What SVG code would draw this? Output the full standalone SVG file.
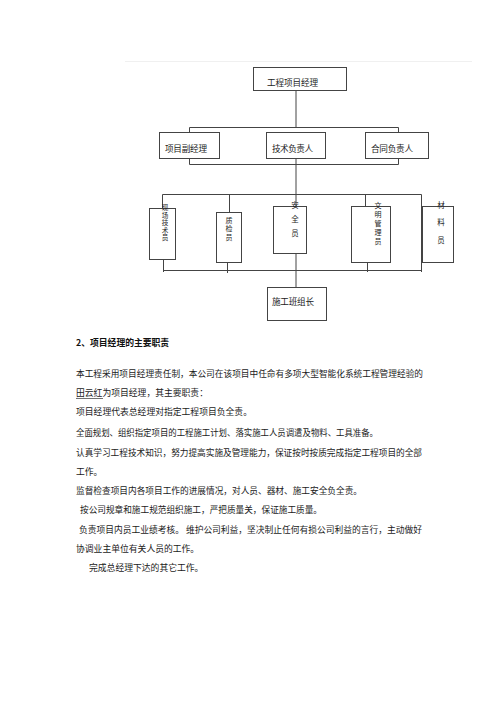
<svg xmlns="http://www.w3.org/2000/svg" width="500" height="706" viewBox="0 0 500 706">
<style>
.bx{fill:#fff;stroke:#444;stroke-width:1}
.ln{fill:none;stroke:#444;stroke-width:1}
.t{font-family:"Noto Sans CJK SC","Noto Sans",sans-serif;font-size:8.6px;fill:#222}
.v{font-family:"Noto Sans CJK SC","Noto Sans",sans-serif;fill:#222;writing-mode:vertical-rl}
.p{font-family:"Noto Sans CJK SC","Noto Sans",sans-serif;font-size:8.8px;fill:#1a1a1a}
.h{font-family:"Noto Sans CJK SC","Noto Sans",sans-serif;font-size:8.8px;font-weight:bold;fill:#111}
</style>
<rect width="500" height="706" fill="#fff"/>
<line x1="125" y1="61.5" x2="472" y2="61.5" stroke="#f0f0f0" stroke-width="1"/>
<g id="connectors">
<path class="ln" d="M296 90V127.5M189.5 127.5H398.5M189.5 127.5V164.5M398.5 127.5V164.5M189.5 164.5H398.5M296 158V195"/>
<path class="ln" d="M162.5 194.5H421.5M162.5 194.5V210M229.5 194.5V212M296 194.5V206M365.5 194.5V211M421.5 194.5V272"/>
<path class="ln" d="M163.5 259V272M227.5 253V273M367.5 253V272M296 253V287M163.5 270.5H421.5"/>
</g>
<g id="n-gcxmjl"><rect class="bx" x="253.5" y="67.5" width="93" height="23"/><text class="t" x="267" y="86" textLength="51">工程项目经理</text></g>
<g id="n-xmfjl"><rect class="bx" x="159.5" y="132.5" width="60" height="26"/><text class="t" x="165" y="152" textLength="42">项目副经理</text></g>
<g id="n-jsfzr"><rect class="bx" x="266.5" y="132.5" width="59" height="26"/><text class="t" x="272" y="152" textLength="41">技术负责人</text></g>
<g id="n-htfzr"><rect class="bx" x="365.5" y="132.5" width="63" height="26"/><text class="t" x="371" y="152" textLength="42">合同负责人</text></g>
<g id="n-xcjsy"><rect class="bx" x="149.5" y="208.5" width="26" height="51"/>
<text class="v" x="165" y="204.7" style="font-size:6.6px;letter-spacing:0.9px">现场技术员</text></g>
<g id="n-zjy"><rect class="bx" x="216.5" y="212.5" width="25" height="50"/>
<text class="v" x="229" y="216.5" style="font-size:7px;letter-spacing:1.5px">质检员</text></g>
<g id="n-aqy"><rect class="bx" x="273.5" y="206.5" width="33" height="47"/>
<text class="v" x="295" y="201.3" style="font-size:7.5px;letter-spacing:6.5px">安全员</text></g>
<g id="n-wmgly"><rect class="bx" x="351.5" y="206.5" width="39" height="56"/>
<text class="v" x="378" y="201.5" style="font-size:7px;letter-spacing:2px">文明管理员</text></g>
<g id="n-cly"><rect class="bx" x="422.5" y="206.5" width="31" height="56"/>
<text class="v" x="441" y="201.3" style="font-size:7.5px;letter-spacing:10px">材料员</text></g>
<g id="n-sgbzz"><rect class="bx" x="267.5" y="287.5" width="59" height="33"/><text class="t" x="272" y="305" textLength="42">施工班组长</text></g>
<g id="body">
<text class="h" x="76" y="346">2、项目经理的主要职责</text>
<text class="p" x="76" y="377" textLength="347" lengthAdjust="spacingAndGlyphs">本工程采用项目经理责任制，本公司在该项目中任命有多项大型智能化系统工程管理经验的</text>
<text class="p" x="76" y="396">田云红为项目经理，其主要职责：</text>
<line x1="76" y1="398.5" x2="103" y2="398.5" stroke="#333" stroke-width="0.7"/>
<text class="p" x="76" y="415">项目经理代表总经理对指定工程项目负全责。</text>
<text class="p" x="76" y="436" textLength="302" lengthAdjust="spacingAndGlyphs">全面规划、组织指定项目的工程施工计划、落实施工人员调遣及物料、工具准备。</text>
<text class="p" x="76" y="456" textLength="346" lengthAdjust="spacingAndGlyphs">认真学习工程技术知识，努力提高实施及管理能力，保证按时按质完成指定工程项目的全部</text>
<text class="p" x="76" y="475">工作。</text>
<text class="p" x="76" y="494" textLength="286" lengthAdjust="spacingAndGlyphs">监督检查项目内各项目工作的进展情况，对人员、器材、施工安全负全责。</text>
<text class="p" x="80" y="513" textLength="242" lengthAdjust="spacingAndGlyphs">按公司规章和施工规范组织施工，严把质量关，保证施工质量。</text>
<text class="p" x="79" y="533" textLength="343" lengthAdjust="spacingAndGlyphs">负责项目内员工业绩考核。 维护公司利益，坚决制止任何有损公司利益的言行，主动做好</text>
<text class="p" x="76" y="552">协调业主单位有关人员的工作。</text>
<text class="p" x="89" y="571">完成总经理下达的其它工作。</text>
</g>
</svg>
